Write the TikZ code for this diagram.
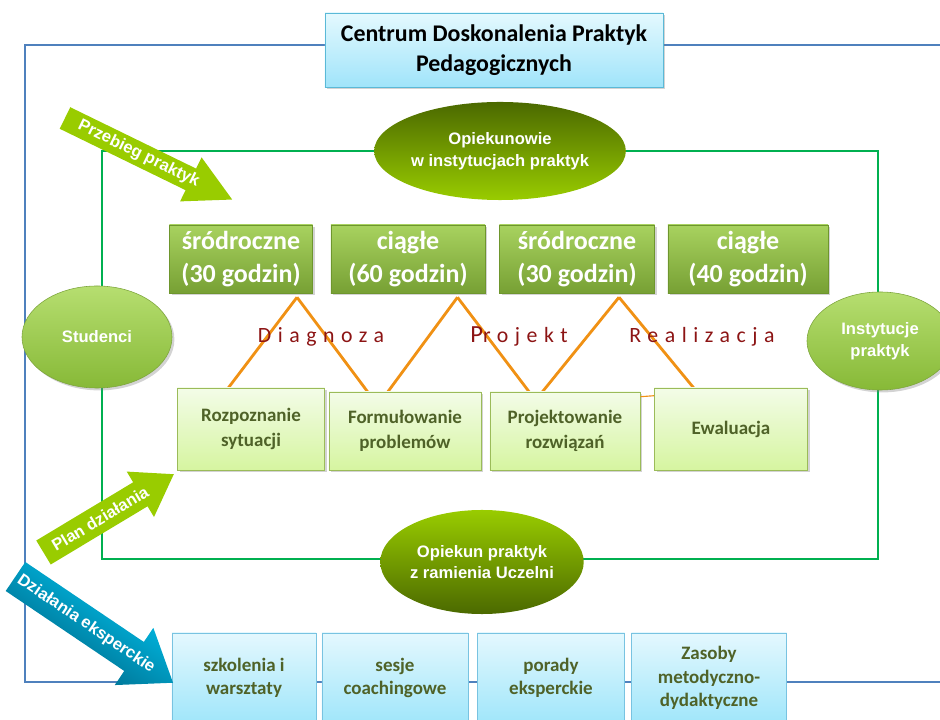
\documentclass[tikz,border=0pt]{standalone}
\usepackage{fontspec}
\setmainfont{Carlito}
\newfontfamily\arialfont{Liberation Sans}
\newfontfamily\spacedfont[LetterSpace=30]{Carlito}
\usepackage{xcolor}
\usetikzlibrary{shapes.geometric, shadows, calc}

\definecolor{frameblue}{RGB}{79,129,189}
\definecolor{framegreen}{RGB}{0,176,80}
\definecolor{zigorange}{RGB}{240,145,20}
\definecolor{stagered}{RGB}{140,20,20}
\definecolor{olivetext}{RGB}{79,98,40}
\definecolor{lime}{RGB}{153,204,0}
\definecolor{darkolive}{RGB}{75,105,0}

\tikzset{
  softshadow/.style={drop shadow={shadow xshift=0.6mm, shadow yshift=-0.6mm, opacity=0.35}},
  titlebox/.style={rectangle, align=center, inner sep=2pt, minimum width=8.45cm, minimum height=1.85cm,
    top color={rgb,255:red,228;green,249;blue,254}, bottom color={rgb,255:red,160;green,228;blue,250},
    draw={rgb,255:red,90;green,185;blue,215}, softshadow,
    font=\fontsize{17}{21.5}\selectfont\bfseries},
  upbox/.style={rectangle, align=center, inner sep=2pt, minimum height=1.7cm,
    top color={rgb,255:red,168;green,210;blue,95}, bottom color={rgb,255:red,119;green,160;blue,52},
    draw={rgb,255:red,110;green,150;blue,45}, softshadow, text=white,
    font=\fontsize{18.5}{23}\selectfont\bfseries},
  stepbox/.style={rectangle, align=center, inner sep=2pt, minimum height=2.05cm,
    top color={rgb,255:red,243;green,252;blue,232}, bottom color={rgb,255:red,214;green,245;blue,160},
    draw={rgb,255:red,155;green,187;blue,89}, softshadow, text=olivetext,
    font=\fontsize{13.5}{18}\selectfont\bfseries},
  toolbox/.style={rectangle, align=center, inner sep=2pt, minimum height=2.25cm,
    top color={rgb,255:red,228;green,248;blue,254}, bottom color={rgb,255:red,160;green,230;blue,250},
    draw={rgb,255:red,120;green,195;blue,225}, text=olivetext,
    font=\fontsize{13.5}{16.5}\selectfont\bfseries},
  sideoval/.style={ellipse, inner sep=0pt, align=center, text=white,
    top color={rgb,255:red,182;green,222;blue,112}, bottom color={rgb,255:red,135;green,185;blue,55},
    draw={rgb,255:red,125;green,165;blue,60}, softshadow,
    font=\arialfont\fontsize{11.8}{15.5}\selectfont\bfseries},
  carer/.style={ellipse, inner sep=0pt, align=center, text=white,
    font=\arialfont\fontsize{11.8}{15.5}\selectfont\bfseries},
  stage/.style={anchor=base, text=stagered, font=\spacedfont\fontsize{15.5}{17}\selectfont},
  zig/.style={draw=zigorange, line width=2pt},
  arrowtext/.style={inner sep=0pt, text=white, font=\arialfont\fontsize{11.8}{13}\selectfont\bfseries}
}

\begin{document}
\begin{tikzpicture}[x=0.025cm, y=-0.025cm]
  \useasboundingbox (0,0) rectangle (940,720);

  % frames
  \draw[frameblue, line width=2pt] (25,45) rectangle (980,682);
  \draw[framegreen, line width=2pt] (102,151) rectangle (878,559);

  % centre and carers
  \node (cdpp) at (494,50) [titlebox] {Centrum Doskonalenia Praktyk\\Pedagogicznych};
  \node (opiek) at (500,151) [carer, minimum width=4.75cm, minimum height=2.45cm,
    top color=darkolive, bottom color=lime] {Opiekunowie\\w instytucjach praktyk};
  \node (opuczel) at (482,562) [carer, minimum width=4.375cm, minimum height=2.6cm,
    top color=lime, bottom color=darkolive] {Opiekun praktyk\\z ramienia Uczelni};
  \node (stud) at (97,337) [sideoval, minimum width=3.75cm, minimum height=2.55cm] {Studenci};
  \node (inst) at (880,341) [sideoval, minimum width=3.65cm, minimum height=2.45cm] {Instytucje\\praktyk};

  % kinds of practice
  \node (sr1) at (241,259) [upbox, minimum width=3.575cm] {śródroczne\\(30 godzin)};
  \node (cg1) at (408,259) [upbox, minimum width=3.85cm] {ciągłe\\(60 godzin)};
  \node (sr2) at (577,259) [upbox, minimum width=3.875cm] {śródroczne\\(30 godzin)};
  \node (cg2) at (748,259) [upbox, minimum width=4cm] {ciągłe\\(40 godzin)};

  % zigzag between the rows
  \draw[zig] ($(sr1.south west)!0.89!(sr1.south east)+(0,4)$) -- +(-69,91);
  \draw[zig] ($(sr1.south west)!0.89!(sr1.south east)+(0,4)$) -- +(71,95);
  \draw[zig] ($(cg1.south west)!0.82!(cg1.south east)+(0,4)$) -- +(-70,95);
  \draw[zig] ($(cg1.south west)!0.82!(cg1.south east)+(0,4)$) -- +(72,95);
  \draw[zig] ($(sr2.south west)!0.77!(sr2.south east)+(0,4)$) -- +(-77,95);
  \draw[zig] ($(sr2.south west)!0.77!(sr2.south east)+(0,4)$) -- +(75,91);

  \node (diag) at (321,343) [stage] {Diagnoza};
  \node (projl) at (519,343) [stage] {\fontsize{17.5}{17}\selectfont P\fontsize{15.5}{17}\selectfont rojekt};
  \node (real) at (702,343) [stage] {Realizacja};

  % steps of the plan
  \node (rozp) at (251,429) [stepbox, minimum width=3.675cm] {Rozpoznanie\\sytuacji};
  \node (form) at (405,431) [stepbox, minimum width=3.8cm, minimum height=1.95cm] {Formułowanie\\problemów};
  \node (proj) at (565,431) [stepbox, minimum width=3.75cm, minimum height=1.95cm] {Projektowanie\\rozwiązań};
  \node (ewal) at (731,429) [stepbox, minimum width=3.825cm] {Ewaluacja};
  \draw[zigorange, line width=0.8pt] ($(proj.north east)+(0,5)$) -- ($(ewal.north west)+(0,8)$);

  % expert support
  \node (szk) at (244,678) [toolbox, minimum width=3.6cm] {szkolenia i\\warsztaty};
  \node (ses) at (395,678) [toolbox, minimum width=3.65cm] {sesje\\coachingowe};
  \node (por) at (551,678) [toolbox, minimum width=3.675cm] {porady\\eksperckie};
  \node (zas) at (709,678) [toolbox, minimum width=3.875cm] {Zasoby\\metodyczno-\\dydaktyczne};

  % big arrows
  \begin{scope}[shift={(65,118)}, rotate=-26]
    \fill[lime] (0,-12) -- (140,-12) -- (140,-24.5) -- (186,0) -- (140,24.5) -- (140,12) -- (0,12) -- cycle;
    \node (przebieg) at (82,0) [arrowtext, rotate=-26] {Przebieg praktyk};
  \end{scope}
  \begin{scope}[shift={(43.5,552.5)}, rotate=31]
    \fill[lime] (0,-14) -- (113,-14) -- (113,-26.5) -- (152,0) -- (113,26.5) -- (113,14) -- (0,14) -- cycle;
    \node (plan) at (66,0) [arrowtext, rotate=31] {Plan działania};
  \end{scope}
  \begin{scope}[shift={(15.5,576.5)}, rotate=-34]
    \shade[top color={rgb,255:red,0;green,205;blue,250}, bottom color={rgb,255:red,0;green,95;blue,125},
      shading angle=-34]
      (0,-17.5) -- (143,-17.5) -- (143,-34.5) -- (190,0) -- (143,34.5) -- (143,17.5) -- (0,17.5) -- cycle;
    \node (eksp) at (85,0) [arrowtext, rotate=-34] {Działania eksperckie};
  \end{scope}
\end{tikzpicture}
\end{document}
